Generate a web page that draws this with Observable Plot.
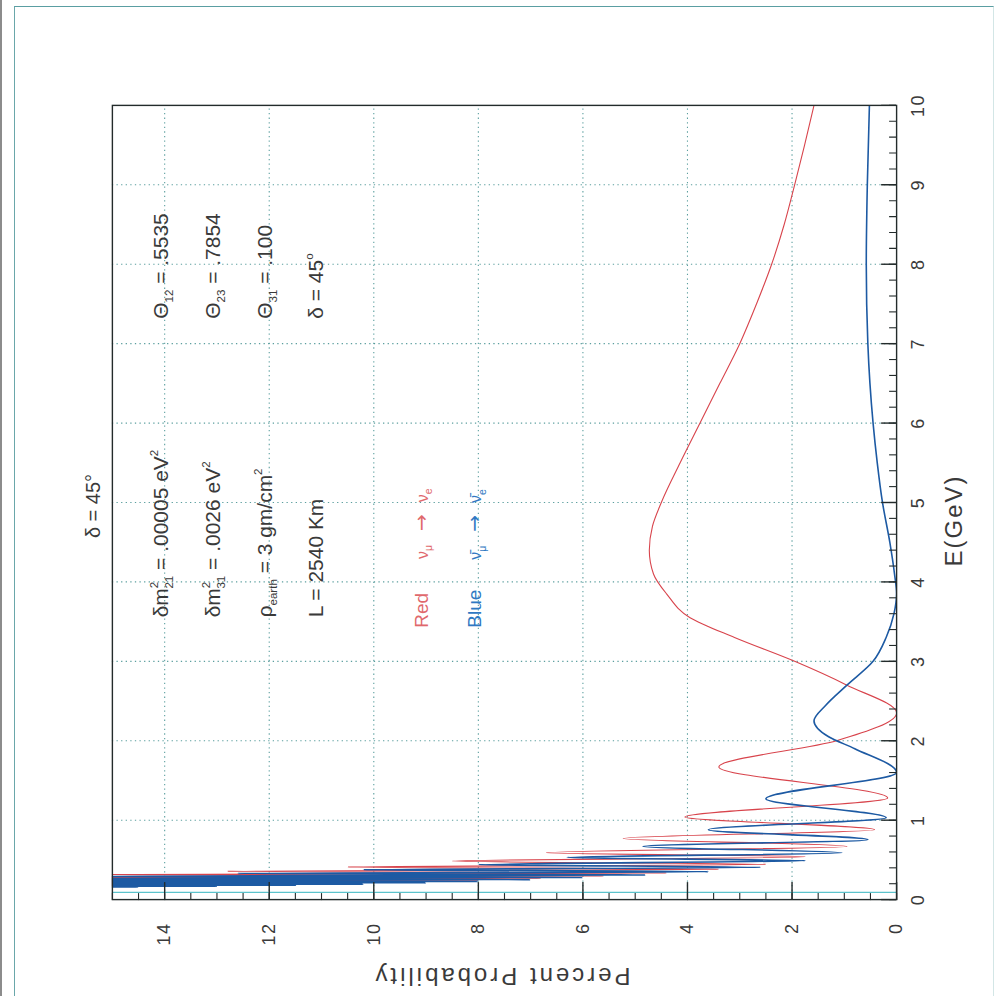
<!DOCTYPE html>
<html>
<head>
<meta charset="utf-8">
<script src="https://cdn.jsdelivr.net/npm/d3@7"></script>
<script src="https://cdn.jsdelivr.net/npm/@observablehq/plot@0.6"></script>
<style>
  html, body { margin: 0; padding: 0; background: #fff; }
  #page { position: relative; width: 995px; height: 996px; overflow: hidden; background: #fff; }
  #edge { position: absolute; left: 0; top: 0; width: 2px; height: 996px; background: #8c8c8c; }
  #sheet { position: absolute; left: 14px; top: 6px; width: 978px; height: 1000px;
           border-top: 1.5px solid #5a9ea2; border-left: 1.5px solid #6aa7aa; border-right: 1px solid #d3e6e6; }
  #chart svg { position: absolute; left: 0; top: 0; transform-origin: 0 0;
               transform: translateY(996px) rotate(-90deg); }
</style>
</head>
<body>
<div id="page"><div id="edge"></div><div id="sheet"></div><div id="chart"></div></div>
<script>
// Energy axis (GeV) and probability axis (percent)
const energyTicks = [0, 1, 2, 3, 4, 5, 6, 7, 8, 9, 10];
const energyGrid = [1, 2, 3, 4, 5, 6, 7, 8, 9];
const probTicks = [0, 2, 4, 6, 8, 10, 12, 14];
const probGrid = [2, 4, 6, 8, 10, 12, 14];

// nu_mu -> nu_e (red): energy in GeV, probability in percent
const redE = [0.16, 0.168, 0.174, 0.18, 0.186, 0.193, 0.2, 0.208, 0.216, 0.225,
  0.235, 0.245, 0.256, 0.269, 0.282, 0.298, 0.315, 0.335, 0.357, 0.382,
  0.41, 0.444, 0.485, 0.54, 0.59, 0.67, 0.77, 0.88, 1.04, 1.28,
  1.67, 2.0, 2.35, 2.7, 3.0, 3.3, 3.55, 3.85, 4.1, 4.4,
  4.7, 5.0, 5.5, 6.0, 6.5, 7.0, 7.5, 8.0, 8.5, 9.0, 9.5, 10.0];
const redP = [30, 15.5, 30, 13.5, 28, 12.0, 26, 10.6, 24, 9.3,
  22, 8.0, 20, 6.8, 18, 5.6, 15.6, 4.4, 12.8, 3.4,
  10.5, 2.5, 8.5, 1.75, 6.7, 0.95, 5.23, 0.42, 4.05, 0.17,
  3.4, 1.15, 0.0, 0.95, 1.95, 3.1, 3.95, 4.4, 4.65, 4.73,
  4.67, 4.5, 4.14, 3.76, 3.38, 3.0, 2.68, 2.39, 2.15, 1.95, 1.76, 1.58];

// anti-nu_mu -> anti-nu_e (blue)
const blueE = [0.15, 0.155, 0.16, 0.165, 0.17, 0.176, 0.182, 0.188, 0.195, 0.203,
  0.211, 0.22, 0.229, 0.24, 0.251, 0.264, 0.278, 0.293, 0.31, 0.33,
  0.352, 0.377, 0.406, 0.44, 0.49, 0.53, 0.59, 0.67, 0.755, 0.88,
  1.03, 1.27, 1.6, 1.9, 2.05, 2.25, 2.45, 2.7, 3.0, 3.3,
  3.6, 3.85, 4.1, 4.5, 5.0, 5.5, 6.0, 6.5, 7.0, 8.0, 9.0, 10.0];
const blueP = [16, 32, 14.5, 30, 13.0, 28, 11.5, 26, 10.2, 24,
  9.0, 22, 8.0, 20, 7.0, 18, 6.0, 15.4, 4.8, 12.6,
  3.6, 10.2, 2.6, 8.0, 1.75, 6.3, 1.05, 4.85, 0.55, 3.6,
  0.2, 2.5, 0.0, 0.8, 1.3, 1.58, 1.35, 0.95, 0.45, 0.2,
  0.05, 0.0, 0.04, 0.13, 0.27, 0.37, 0.45, 0.51, 0.55, 0.58, 0.56, 0.52];

// lowest sampled energy of the blue curve
const blueStart = [0.09];

const title = "δ = 45°";
const xLabel = "E(GeV)";
const yLabel = "Percent Probability";

const red = redE.map((E, i) => ({E, P: redP[i]}));
const blue = blueE.map((E, i) => ({E, P: blueP[i]}));

const W = 996, H = 995;
const mL = 96, mR = 105, mT = 112, mB = 98;
const fw = W - mL - mR, fh = H - mT - mB;
const minorE = d3.range(0, 10.001, 0.2);
const minorP = d3.range(0, 15.001, 0.5);
const ink = "#232b2b";
const font = "'Liberation Sans', Arial, sans-serif";

const plot = Plot.plot({
  width: W, height: H,
  marginLeft: mL, marginRight: mR, marginTop: mT, marginBottom: mB,
  x: {domain: [0, 10]},
  y: {domain: [0, 15]},
  style: {fontFamily: font, background: "transparent", color: "#3a3a3a"},
  marks: [
    Plot.ruleX(energyGrid, {x: d => d, stroke: "#3f8e8e", strokeWidth: 1.1, strokeDasharray: "1.3,3.3", strokeOpacity: 0.85}),
    Plot.ruleY(probGrid, {y: d => d, stroke: "#3f8e8e", strokeWidth: 1.1, strokeDasharray: "1.3,3.3", strokeOpacity: 0.85}),
    Plot.ruleX(blueStart, {x: d => d, stroke: "#5cc3cc", strokeWidth: 1.3}),
    Plot.line(red, {x: "E", y: "P", curve: "monotone-x", stroke: "#d8444c", strokeWidth: 1.1, clip: true}),
    Plot.line(blue, {x: "E", y: "P", curve: "monotone-x", stroke: "#1d5aa3", strokeWidth: 1.6, clip: true}),
    Plot.tickX(minorE, {x: d => d, insetTop: fh - 7, stroke: ink, strokeWidth: 1.1}),
    Plot.tickX(energyTicks, {x: d => d, insetTop: fh - 15, stroke: ink, strokeWidth: 1.4}),
    Plot.tickY(minorP, {y: d => d, insetRight: fw - 7, stroke: ink, strokeWidth: 1.1}),
    Plot.tickY(probTicks, {y: d => d, insetRight: fw - 18, stroke: ink, strokeWidth: 1.4}),
    Plot.axisX(energyTicks, {tickSize: 0, tickPadding: 15, fontSize: 18, label: null, tickFormat: d => String(d)}),
    Plot.axisY(probTicks, {tickSize: 0, tickPadding: 23, fontSize: 18, label: null, tickFormat: d => String(d)}),
    Plot.frame({stroke: ink, strokeWidth: 1.4})
  ]
});

const svg = d3.select(plot);
svg.selectAll('g[aria-label$="tick label"] text').style("letter-spacing", "1.5px");

const sx = plot.scale("x").apply;
const sy = plot.scale("y").apply;
const g = svg.append("g").attr("font-family", font).attr("fill", "#3a3a3a").attr("text-anchor", "start");

// text with raised / lowered pieces; "under" puts a subscript beneath the preceding superscript
function rich(x, y, parts, size, color) {
  const t = g.append("text").attr("x", x).attr("y", y).attr("font-size", size);
  if (color) t.attr("fill", color);
  let shift = 0;
  for (const p of parts) {
    const [s, kind = "n", dx = 0, fs = null, family = null] = p;
    const target = kind === "sup" ? -0.45 * size : (kind === "sub" || kind === "under") ? 0.25 * size : 0;
    const ts = t.append("tspan").text(s);
    if (target - shift !== 0) ts.attr("dy", target - shift);
    shift = target;
    if (kind !== "n") ts.attr("font-size", size * 0.55);
    if (fs) ts.attr("font-size", fs);
    if (family) ts.attr("font-family", family);
    const back = kind === "under" ? -0.32 * size : 0;
    if (dx + back !== 0) ts.attr("dx", dx + back);
  }
  return t;
}

const fs = 21;
const c1 = sx(3.56), c2 = sx(7.32), cL = sx(3.43);
rich(c1, sy(13.93), [["δm"], ["2", "sup"], ["21", "under"], [" = .00005 eV"], ["2", "sup"]], fs);
rich(c1, sy(12.94), [["δm"], ["2", "sup"], ["31", "under"], [" = .0026 eV"], ["2", "sup"]], fs);
rich(c1, sy(11.94), [["ρ"], ["earth", "sub"], [" = 3 gm/cm"], ["2", "sup"]], fs);
rich(c1, sy(10.97), [["L = 2540 Km"]], fs);

rich(c2, sy(13.93), [["Θ"], ["12", "sub"], [" = .5535"]], fs);
rich(c2, sy(12.94), [["Θ"], ["23", "sub"], [" = .7854"]], fs);
rich(c2, sy(11.94), [["Θ"], ["31", "sub"], [" = .100"]], fs);
rich(c2, sy(10.97), [["δ = 45"], ["o", "sup"]], fs);

const arrowFont = "'DejaVu Sans', sans-serif";
rich(cL, sy(8.96), [["Red"], ["ν", "n", 34, 16], ["μ", "sub"], ["→", "n", 14, 20, arrowFont], ["ν", "n", 12, 16], ["e", "sub"]], 19, "#e0686c");
rich(cL, sy(7.93), [["Blue"], ["ν\u0304", "n", 30, 16], ["μ", "sub"], ["→", "n", 14, 20, arrowFont], ["ν\u0304", "n", 12, 16], ["e", "sub"]], 19, "#2f78c2");

// title, axis titles
g.append("text").attr("x", mL + fw / 2 - 3).attr("y", 100).attr("text-anchor", "middle")
  .attr("font-size", 20).text(title);
g.append("text").attr("x", 476).attr("y", 963).attr("text-anchor", "middle")
  .attr("font-size", 24).style("letter-spacing", "2px").text(xLabel);
g.append("text").attr("transform", "translate(28,502) rotate(-90)").attr("text-anchor", "middle")
  .attr("font-size", 24).style("letter-spacing", "3px").text(yLabel);

document.getElementById("chart").appendChild(plot);
</script>
</body>
</html>
